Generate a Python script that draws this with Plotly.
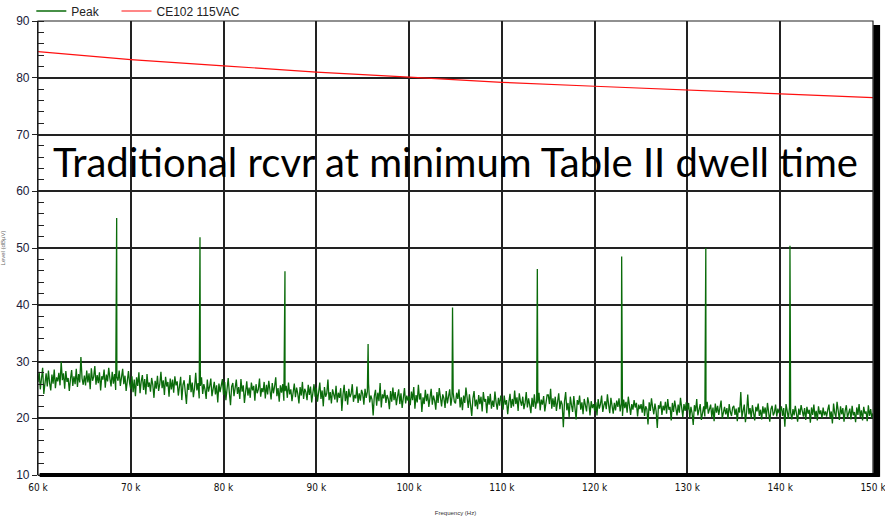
import plotly.graph_objects as go

# ---------------- data ----------------
noise_start_khz = 60.0
noise_end_khz = 150.0
noise_level = [
    26.4, 28.2, 25.1, 27.6, 28.9, 24.3, 26.8, 27.9, 25.6, 28.4, 26.2, 24.9, 27.7, 26.1, 28.6, 25.3, 27.2, 26.5, 28.0, 25.8,
    30.0, 26.7, 27.9, 25.2, 28.3, 26.4, 27.1, 24.8, 26.9, 28.5, 25.7, 27.4, 26.0, 28.7, 25.5, 27.8, 26.3, 30.8, 27.0, 25.9,
    27.5, 25.8, 28.4, 26.3, 27.9, 25.1, 28.8, 26.6, 27.3, 29.2, 25.9, 27.6, 26.2, 28.1, 24.9, 27.4, 26.8, 28.6, 25.4, 27.7,
    26.5, 28.9, 27.0, 25.6, 28.2, 26.1, 27.8, 25.0, 27.3, 26.6, 28.4, 25.7, 27.1, 28.7, 26.0, 27.5, 24.8, 26.9, 28.3, 26.2,
    25.1, 27.4, 24.6, 26.8, 23.9, 27.2, 25.7, 28.1, 24.4, 26.5, 27.6, 25.0, 26.9, 24.2, 27.8, 25.5, 26.3, 24.7, 27.1, 25.9,
    23.6, 26.6, 25.2, 27.5, 24.8, 26.0, 28.2, 25.3, 26.7, 24.1, 27.3, 25.6, 26.4, 23.8, 27.0, 25.1, 26.8, 24.5, 27.4, 25.8,
    26.5, 24.0, 25.8, 27.3, 23.2, 25.9, 26.7, 24.4, 22.5, 26.1, 25.0, 27.6, 24.6, 26.3, 23.7, 25.4, 28.0, 24.9, 26.2, 23.5,
    25.7, 27.2, 24.3, 26.0, 25.1, 23.4, 26.8, 24.7, 25.6, 27.0, 23.9, 25.3, 26.4, 24.2, 25.8, 22.8, 26.1, 24.6, 25.5, 26.9,
    24.1, 26.4, 23.2, 25.8, 27.1, 24.5, 22.3, 25.6, 26.2, 23.9, 25.0, 26.8, 24.3, 25.5, 23.4, 26.9, 24.7, 25.8, 22.7, 25.2,
    26.5, 24.0, 25.4, 23.6, 26.3, 24.9, 25.7, 23.1, 26.0, 24.4, 25.1, 27.0, 23.8, 25.3, 24.6, 26.4, 23.5, 25.9, 24.2, 26.6,
    25.0, 23.3, 26.2, 24.4, 25.6, 27.2, 23.9, 25.3, 22.9, 25.8, 24.5, 26.0, 23.1, 24.8, 25.7, 23.6, 26.3, 24.2, 25.1, 23.0,
    24.9, 26.1, 23.7, 25.4, 24.3, 22.6, 25.5, 24.0, 26.4, 23.4, 25.2, 24.6, 23.2, 25.9, 24.1, 25.6, 22.8, 24.7, 26.0, 23.8,
    25.4, 22.9, 24.7, 26.3, 23.4, 24.9, 22.1, 25.5, 23.8, 24.4, 26.8, 23.2, 24.6, 22.6, 25.1, 24.0, 23.3, 25.7, 22.8, 24.5,
    23.6, 25.3, 21.3, 24.2, 25.9, 23.0, 24.8, 22.4, 25.2, 23.7, 24.3, 26.0, 22.9, 24.1, 23.5, 25.6, 22.7, 24.4, 23.1, 25.0,
    24.3, 22.4, 25.2, 23.6, 24.7, 26.1, 22.8, 24.0, 23.3, 20.5, 23.9, 25.0, 22.2, 24.5, 23.0, 26.2, 21.9, 24.2, 23.5, 25.0,
    22.7, 24.1, 23.4, 21.6, 24.8, 22.9, 25.4, 23.2, 24.6, 22.3, 23.8, 25.1, 22.5, 24.4, 21.8, 23.7, 25.3, 22.6, 24.0, 23.1,
    23.9, 22.3, 24.7, 23.2, 25.5, 21.7, 24.1, 22.8, 25.9, 23.3, 24.4, 21.1, 23.7, 22.5, 25.0, 23.0, 24.3, 22.0, 23.6, 25.2,
    22.4, 24.0, 23.1, 21.5, 24.6, 22.7, 25.3, 23.4, 22.1, 24.2, 23.5, 21.8, 24.8, 22.6, 23.9, 25.1, 22.2, 23.8, 24.5, 22.9,
    22.6, 24.5, 23.4, 25.1, 21.9, 23.7, 21.4, 24.0, 22.7, 25.4, 23.0, 21.8, 24.2, 22.3, 20.4, 23.5, 24.8, 22.1, 23.3, 21.6,
    24.1, 22.5, 23.8, 21.2, 24.6, 22.9, 23.4, 20.9, 23.9, 22.4, 24.3, 21.7, 23.1, 22.0, 24.7, 22.8, 21.5, 23.6, 22.2, 24.0,
    22.9, 21.5, 24.0, 22.4, 23.2, 20.7, 22.8, 24.3, 21.8, 23.4, 22.1, 24.9, 22.5, 23.7, 21.3, 24.4, 23.0, 22.2, 23.8, 21.6,
    22.7, 24.6, 21.9, 23.5, 22.3, 20.9, 23.6, 22.0, 24.2, 21.7, 23.1, 22.6, 24.5, 21.4, 23.3, 22.4, 23.9, 21.2, 22.8, 24.1,
    24.1, 22.5, 25.2, 21.7, 23.5, 22.0, 23.8, 21.3, 22.9, 24.4, 21.6, 23.1, 22.4, 18.4, 23.0, 24.6, 21.4, 22.7, 20.2, 23.8,
    22.3, 21.1, 23.9, 21.9, 19.8, 23.2, 22.4, 24.0, 21.5, 22.8, 20.7, 23.4, 22.1, 21.2, 23.7, 22.6, 20.5, 23.0, 21.8, 22.5,
    21.3, 22.8, 20.5, 23.4, 21.7, 22.5, 24.0, 21.1, 22.3, 23.0, 21.6, 24.2, 22.4, 20.9, 23.6, 22.1, 20.8, 22.7, 21.4, 23.1,
    22.0, 23.5, 21.2, 22.6, 20.4, 23.3, 21.8, 22.9, 21.0, 23.8, 22.2, 20.6, 22.5, 21.5, 23.2, 21.9, 22.7, 20.3, 22.4, 21.6,
    22.5, 21.0, 23.3, 20.4, 22.1, 21.6, 18.9, 22.8, 21.3, 23.5, 21.9, 20.7, 22.6, 21.2, 18.3, 22.3, 21.7, 23.0, 20.6, 22.2,
    21.4, 22.9, 20.8, 23.4, 21.5, 22.0, 19.6, 22.7, 21.1, 23.1, 21.8, 20.5, 22.4, 21.0, 23.6, 21.6, 20.2, 22.5, 21.3, 22.8,
    21.4, 22.7, 20.1, 22.0, 20.9, 18.8, 22.3, 21.2, 23.4, 20.5, 21.8, 22.5, 19.7, 21.3, 22.1, 20.3, 21.6, 22.9, 20.8, 21.5,
    22.4, 20.2, 21.9, 19.5, 22.6, 21.0, 22.2, 20.6, 21.7, 23.1, 20.0, 21.4, 22.0, 20.7, 21.8, 19.9, 22.5, 21.1, 20.4, 21.9,
    22.2, 20.6, 21.7, 19.5, 21.9, 21.0, 24.6, 20.2, 21.6, 22.4, 19.3, 21.1, 24.2, 20.7, 21.8, 20.0, 22.3, 20.9, 19.6, 22.0,
    21.2, 22.6, 20.4, 21.5, 19.8, 22.1, 20.8, 21.9, 20.1, 22.7, 21.3, 19.4, 21.6, 22.2, 20.5, 21.0, 22.4, 20.3, 21.7, 20.9,
    21.2, 22.1, 20.4, 21.8, 18.5, 22.5, 21.3, 19.9, 21.9, 21.0, 19.8, 21.6, 20.5, 22.2, 20.9, 19.4, 21.7, 20.6, 22.3, 21.1,
    20.3, 21.8, 19.7, 22.0, 20.8, 21.5, 19.2, 21.9, 20.6, 22.4, 20.1, 21.3, 19.6, 22.1, 20.7, 21.4, 20.0, 21.9, 20.5, 21.2,
    20.3, 21.5, 22.4, 20.0, 21.2, 19.1, 22.6, 20.9, 20.2, 22.9, 21.4, 19.7, 22.1, 20.7, 21.8, 19.4, 21.3, 22.3, 20.1, 21.0,
    21.7, 19.8, 22.2, 20.5, 21.1, 19.3, 21.9, 20.6, 22.5, 20.2, 21.4, 19.6, 22.0, 20.8, 21.2, 19.5, 22.3, 20.4, 21.6, 20.0,
    20.9,
]
peak_freq_khz = [68.48, 77.46, 86.62, 95.58, 104.68, 113.82, 122.91, 131.98, 141.05]
peak_level = [55.3, 51.9, 45.9, 33.1, 39.5, 46.3, 48.5, 50.0, 50.4]

limit_freq_khz = [60, 70, 80, 90, 100, 110, 120, 130, 140, 150]
limit_level = [84.6, 83.2, 82.1, 81.0, 80.1, 79.2, 78.5, 77.8, 77.1, 76.5]

x_tick_khz = [60, 70, 80, 90, 100, 110, 120, 130, 140, 150]
x_tick_text = ["60 k", "70 k", "80 k", "90 k", "100 k", "110 k", "120 k", "130 k", "140 k", "150 k"]
y_ticks = [10, 20, 30, 40, 50, 60, 70, 80, 90]

series_names = ["Peak", "CE102 115VAC"]
annotation_text = "Traditional rcvr at minimum Table II dwell time"
x_title = "Frequency (Hz)"
y_title = "Level (dBµV)"

# ---------------- build peak trace ----------------
n = len(noise_level)
step = (noise_end_khz - noise_start_khz) / (n - 1)
pts = [(noise_start_khz + i * step, v) for i, v in enumerate(noise_level)]
pts += list(zip(peak_freq_khz, peak_level))
pts.sort(key=lambda p: p[0])
peak_x = [p[0] * 1000 for p in pts]
peak_y = [p[1] for p in pts]

fig = go.Figure()
fig.add_trace(go.Scatter(x=peak_x, y=peak_y, mode="lines", name=series_names[0],
                         line=dict(color="#0a6b0a", width=1.3), legend="legend"))
fig.add_trace(go.Scatter(x=[f * 1000 for f in limit_freq_khz], y=limit_level, mode="lines",
                         name=series_names[1], line=dict(color="#ff1010", width=1.2), legend="legend2"))

legend_common = dict(orientation="h", xanchor="left", y=1 - 11 / 518, yref="container", yanchor="middle",
                     font=dict(size=12, color="#222"), bgcolor="rgba(0,0,0,0)", itemwidth=30)

fig.update_layout(
    width=885, height=518,
    margin=dict(l=38, r=12, t=21, b=43, autoexpand=False),
    paper_bgcolor="white", plot_bgcolor="white",
    font=dict(family="Liberation Sans, Arial, sans-serif", color="#1a1a1a"),
    showlegend=True,
    legend=dict(x=-0.008, **legend_common),
    legend2=dict(x=0.094, **legend_common),
    xaxis=dict(range=[60000, 150000], tickvals=[v * 1000 for v in x_tick_khz], ticktext=x_tick_text,
               showgrid=True, gridcolor="#222", gridwidth=1.5, zeroline=False,
               ticks="outside", ticklen=3, tickcolor="rgba(0,0,0,0)", ticklabeloverflow="allow",
               tickfont=dict(family="Liberation Sans Narrow, DejaVu Sans Condensed, sans-serif", size=10,
                             color="#111"),
               title=dict(text=x_title, font=dict(size=6, color="#333"), standoff=18),
               showline=False),
    yaxis=dict(range=[10, 90], tickvals=y_ticks, showgrid=True, gridcolor="#222", gridwidth=1.5,
               zeroline=False, ticks="outside", ticklen=5, tickcolor="#222", tickwidth=1,
               tickfont=dict(size=12, color="#20203a"),
               minor=dict(dtick=2, ticks="inside", ticklen=6, tickcolor="#222", tickwidth=1, showgrid=False),
               title=dict(text=y_title, font=dict(size=6, color="#666"), standoff=14),
               showline=True, linecolor="#111", linewidth=1.2),
)

# frame: thin border, thick bottom axis and right-side shadow bar
fig.add_shape(type="rect", xref="paper", yref="paper", x0=0, x1=1, y0=0, y1=1,
              line=dict(color="#222", width=1.2), fillcolor="rgba(0,0,0,0)", layer="above")
fig.add_shape(type="line", xref="paper", yref="paper", x0=0.002, x1=1.008, y0=0, y1=0,
              line=dict(color="black", width=4), layer="above")
fig.add_shape(type="rect", xref="paper", yref="paper", x0=1.0005, x1=1.0085, y0=-0.004, y1=0.991,
              line=dict(width=0), fillcolor="black", layer="above")

fig.add_annotation(text=annotation_text, xref="paper", yref="paper", x=0.5, y=0.69,
                   xanchor="center", yanchor="middle", showarrow=False,
                   font=dict(family="Lato, sans-serif", size=40, color="black"))

fig.write_html("out.html")
